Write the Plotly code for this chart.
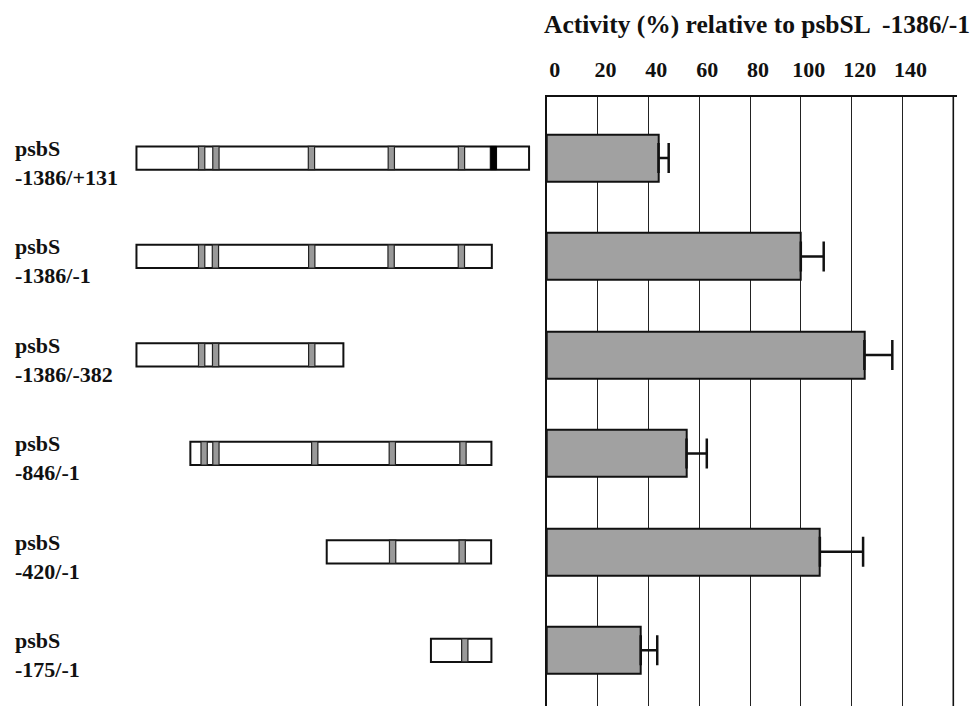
import plotly.graph_objects as go

# Constructs (psbS promoter fragments), top to bottom
construct_names = ["psbS", "psbS", "psbS", "psbS", "psbS", "psbS"]
construct_ranges = ["-1386/+131", "-1386/-1", "-1386/-382", "-846/-1", "-420/-1", "-175/-1"]

# Reporter activity (%) relative to psbSL -1386/-1, with standard errors
activity = [44, 100, 125, 55, 107.5, 37]
activity_err = [4, 9, 11, 8, 17, 6.5]

# Schematic map of each fragment (schematic units along the promoter)
frag_start = [136.7, 136.7, 136.7, 190.7, 327.3, 431.7]
frag_end = [530.0, 492.7, 344.0, 492.3, 492.0, 492.3]
grey_elements = [
    [202.0, 216.3, 312.0, 392.0, 462.3],
    [202.0, 215.8, 312.3, 391.8, 462.2],
    [202.0, 216.0, 312.3],
    [204.5, 216.3, 315.3, 393.0, 463.8],
    [393.3, 463.0],
    [465.6],
]
black_elements = [[494.3], [], [], [], [], []]

# Activity axis
axis_ticks = [0, 20, 40, 60, 80, 100, 120, 140]
axis_max = 160
axis_title = "Activity (%) relative to psbSL \u00a0-1386/-1"

W, H = 972, 706
SERIF = "Liberation Serif, Times New Roman, serif"
px_per_unit = (953.3 - 546.7) / axis_max
pad_units = 1.5  # room so the closing grid line is not clipped
x_dom = [546.7 / W, (953.3 + pad_units * px_per_unit) / W]
y_top = 96.7
y_dom = [0, (H - y_top) / H]

n = len(activity)
rows = list(range(n))

fig = go.Figure()

fig.add_trace(go.Bar(
    x=activity,
    y=rows,
    orientation="h",
    width=0.477,
    marker=dict(color="#a1a1a1", line=dict(color="#111111", width=2)),
    error_x=dict(type="data", symmetric=False, array=activity_err,
                 arrayminus=[0] * n, color="#111111", thickness=2.5, width=15),
    xaxis="x", yaxis="y",
    showlegend=False,
))

shapes = []
# right-hand frame line at the end of the activity scale
shapes.append(dict(type="line", xref="x", yref="y domain",
                   x0=axis_max, x1=axis_max, y0=0, y1=1,
                   line=dict(color="#111111", width=1.6), layer="above"))

# Promoter schematics
box_half = 0.118
elem_half_w = 3.15
for i in rows:
    shapes.append(dict(type="rect", xref="x2", yref="y",
                       x0=frag_start[i], x1=frag_end[i],
                       y0=i - box_half, y1=i + box_half,
                       line=dict(color="#111111", width=2),
                       fillcolor="white", layer="above"))
    for c in grey_elements[i]:
        shapes.append(dict(type="rect", xref="x2", yref="y",
                           x0=c - elem_half_w, x1=c + elem_half_w,
                           y0=i - box_half, y1=i + box_half,
                           line=dict(color="#222222", width=1.2),
                           fillcolor="#999999", layer="above"))
    for c in black_elements[i]:
        shapes.append(dict(type="rect", xref="x2", yref="y",
                           x0=c - elem_half_w, x1=c + elem_half_w,
                           y0=i - box_half, y1=i + box_half,
                           line=dict(color="#000000", width=1),
                           fillcolor="#000000", layer="above"))

annotations = []
for i in rows:
    annotations.append(dict(
        xref="paper", yref="y", x=13 / W, y=i, xanchor="left", yanchor="middle",
        yshift=-5, align="left", showarrow=False,
        text=f"<b>{construct_names[i]}</b><br><b>{construct_ranges[i]}</b>",
        font=dict(family=SERIF, size=22, color="#111111"),
    ))
annotations.append(dict(
    xref="paper", yref="paper", x=757 / W, y=1 - 24 / H,
    xanchor="center", yanchor="middle", showarrow=False,
    text=f"<b>{axis_title}</b>",
    font=dict(family=SERIF, size=25.5, color="#111111"),
))

tickvals = axis_ticks + [axis_max]
ticktext = [str(v) for v in axis_ticks] + [""]

fig.update_layout(
    width=W, height=H,
    margin=dict(l=0, r=0, t=0, b=0),
    paper_bgcolor="white", plot_bgcolor="white",
    bargap=0,
    xaxis=dict(domain=x_dom, anchor="y", side="top", range=[0, axis_max + pad_units],
               tickvals=tickvals, ticktext=ticktext, ticks="",
               ticklabelshift=8, ticklabelstandoff=9,
               tickfont=dict(family=SERIF, size=22, color="#111111", weight="bold"),
               showgrid=True, gridcolor="#222222", gridwidth=1.2,
               showline=True, linecolor="#111111", linewidth=1.6,
               zeroline=False, fixedrange=True),
    xaxis2=dict(domain=[0, x_dom[0] - 0.001], anchor="y", range=[0, 546.7],
                visible=False, fixedrange=True),
    yaxis=dict(domain=y_dom, anchor="x", range=[5.566, -0.623],
               showticklabels=False, ticks="", showgrid=False, zeroline=False,
               showline=True, linecolor="#111111", linewidth=2.2, fixedrange=True),
    shapes=shapes,
    annotations=annotations,
)

fig.write_html("out.html")
